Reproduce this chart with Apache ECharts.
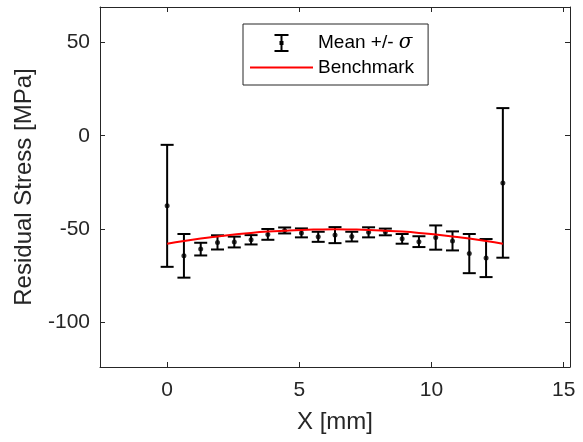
<!DOCTYPE html>
<html>
<head>
<meta charset="utf-8">
<script src="https://cdn.jsdelivr.net/npm/echarts@6/dist/echarts.min.js"></script>
<style>
html,body{margin:0;padding:0;background:#fff;}
#chart{width:583px;height:442px;}
</style>
</head>
<body>
<div id="chart"></div>
<script>
// Data
var xPositions = [0, 0.635, 1.27, 1.905, 2.54, 3.175, 3.81, 4.445, 5.08, 5.715, 6.35, 6.985, 7.62, 8.255, 8.89, 9.525, 10.16, 10.795, 11.43, 12.065, 12.7];
var meanValues = [-37.6, -64.4, -60.8, -57.2, -57.0, -55.8, -52.9, -50.8, -52.1, -54.2, -53.3, -54.1, -51.8, -51.6, -55.3, -56.8, -54.6, -56.4, -63.2, -65.6, -25.3];
var sigmaValues = [32.7, 11.7, 3.4, 3.8, 2.9, 2.5, 2.9, 1.6, 2.4, 2.7, 4.3, 2.6, 2.7, 1.8, 2.6, 2.9, 6.5, 5.1, 10.5, 10.2, 40.1];
var benchmarkValues = [-57.9, -56.4, -55.1, -54.0, -53.0, -52.1, -51.4, -50.9, -50.5, -50.3, -50.2, -50.3, -50.5, -50.9, -51.4, -52.1, -53.0, -54.0, -55.1, -56.4, -57.9];
var xTicks = [0, 5, 10, 15];
var yTicks = [-100, -50, 0, 50];

var errName = 'Mean +/- \u03c3';
var benchName = 'Benchmark';

var errData = xPositions.map(function (x, i) {
  return [x, meanValues[i] - sigmaValues[i], meanValues[i] + sigmaValues[i]];
});
var meanData = xPositions.map(function (x, i) { return [x, meanValues[i]]; });
var benchData = xPositions.map(function (x, i) { return [x, benchmarkValues[i]]; });

var axisColor = '#262626';
var font = 'Liberation Sans, Arial, Helvetica, sans-serif';

function mkX(pos, show) {
  return {
    type: 'value', position: pos, min: -2.54, max: 15.24,
    name: show ? 'X [mm]' : '', nameLocation: 'middle', nameGap: 43,
    nameTextStyle: {fontSize: 24, color: axisColor, fontFamily: font},
    axisLine: {show: true, onZero: false, lineStyle: {color: axisColor, width: 1}},
    axisTick: {show: true, inside: true, length: 5, customValues: xTicks, lineStyle: {color: axisColor}},
    axisLabel: {show: show, customValues: xTicks, fontSize: 21, color: axisColor, fontFamily: font, margin: 13},
    splitLine: {show: false}
  };
}
function mkY(pos, show) {
  return {
    type: 'value', position: pos, min: -124, max: 69,
    name: show ? 'Residual Stress [MPa]' : '', nameLocation: 'middle', nameGap: 64,
    nameTextStyle: {fontSize: 24, color: axisColor, fontFamily: font},
    axisLine: {show: true, onZero: false, lineStyle: {color: axisColor, width: 1}},
    axisTick: {show: true, inside: true, length: 5, customValues: yTicks, lineStyle: {color: axisColor}},
    axisLabel: {show: show, customValues: yTicks, fontSize: 21, color: axisColor, fontFamily: font, margin: 10},
    splitLine: {show: false}
  };
}

var chart = echarts.init(document.getElementById('chart'), null, {renderer: 'canvas'});
chart.setOption({
  animation: false,
  backgroundColor: '#fff',
  grid: {left: 100, top: 7, right: 13, bottom: 75, containLabel: false},
  xAxis: [mkX('bottom', true), mkX('top', false)],
  yAxis: [mkY('left', true), mkY('right', false)],
  legend: {
    orient: 'vertical', left: 243, top: 24,
    padding: [9, 14, 8, 7], itemGap: 5, itemWidth: 63, itemHeight: 18,
    borderColor: axisColor, borderWidth: 1, backgroundColor: '#fff',
    data: [
      {name: errName, icon: 'path://M0,0H14V2H8V7H9V11H8V16H14V18H0V16H6V11H5V7H6V2H0Z'},
      {name: benchName, icon: 'path://M0,0H63V2H0Z'}
    ],
    formatter: function (n) {
      return n === errName ? '{n|Mean +/- }{s|\u03c3}' : '{n|Benchmark}';
    },
    textStyle: {
      color: '#000',
      rich: {
        n: {fontSize: 19, fontFamily: font, color: '#000'},
        s: {fontSize: 20, fontFamily: 'DejaVu Serif, Liberation Serif, serif', fontStyle: 'italic', color: '#000'}
      }
    }
  },
  series: [
    {
      name: errName, type: 'custom', xAxisIndex: 0, yAxisIndex: 0,
      itemStyle: {color: '#000'},
      data: errData,
      z: 3,
      renderItem: function (params, api) {
        var x = api.value(0);
        var lo = api.coord([x, api.value(1)]);
        var hi = api.coord([x, api.value(2)]);
        var w = 6.5;
        var st = {stroke: '#000', lineWidth: 2};
        return {
          type: 'group',
          children: [
            {type: 'line', shape: {x1: lo[0], y1: lo[1], x2: hi[0], y2: hi[1]}, style: st},
            {type: 'line', shape: {x1: lo[0] - w, y1: lo[1], x2: lo[0] + w, y2: lo[1]}, style: st},
            {type: 'line', shape: {x1: hi[0] - w, y1: hi[1], x2: hi[0] + w, y2: hi[1]}, style: st}
          ]
        };
      }
    },
    {
      name: errName, type: 'scatter', data: meanData, symbol: 'circle', symbolSize: 5,
      itemStyle: {color: '#000'}, z: 4
    },
    {
      name: benchName, type: 'line', data: benchData, showSymbol: false, symbol: 'none',
      smooth: true,
      lineStyle: {color: '#ff0000', width: 2}, itemStyle: {color: '#ff0000'}, z: 5
    }
  ]
});
</script>
</body>
</html>
